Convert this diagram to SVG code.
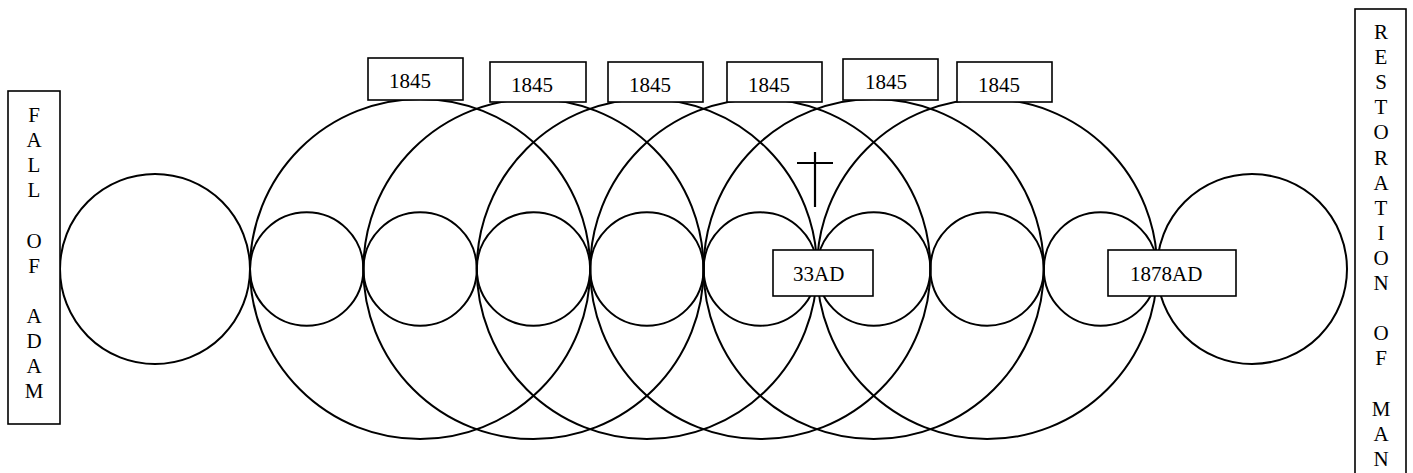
<svg xmlns="http://www.w3.org/2000/svg" width="1413" height="473" viewBox="0 0 1413 473">
<style>
.c{fill:none;stroke:#000;stroke-width:2}
.b{fill:#fff;stroke:#000;stroke-width:1.6}
.t{font-family:"Liberation Serif","Times New Roman",serif;font-size:21px;fill:#000}
.v{font-family:"Liberation Serif","Times New Roman",serif;font-size:21px;fill:#000;text-anchor:middle}
</style>
<rect width="1413" height="473" fill="#fff"/>
<g id="connectors">
<circle class="c" cx="155" cy="269" r="95"/>
<circle class="c" cx="1252" cy="269" r="95"/>
<circle class="c" cx="306.7" cy="269" r="56.7"/>
<circle class="c" cx="420.1" cy="269" r="56.7"/>
<circle class="c" cx="533.5" cy="269" r="56.7"/>
<circle class="c" cx="646.9" cy="269" r="56.7"/>
<circle class="c" cx="760.3" cy="269" r="56.7"/>
<circle class="c" cx="873.7" cy="269" r="56.7"/>
<circle class="c" cx="987.1" cy="269" r="56.7"/>
<circle class="c" cx="1100.5" cy="269" r="56.7"/>
<circle class="c" cx="420.1" cy="269" r="170.1"/>
<circle class="c" cx="533.5" cy="269" r="170.1"/>
<circle class="c" cx="646.9" cy="269" r="170.1"/>
<circle class="c" cx="760.3" cy="269" r="170.1"/>
<circle class="c" cx="873.7" cy="269" r="170.1"/>
<circle class="c" cx="987.1" cy="269" r="170.1"/>
</g>
<g id="cross">
<line x1="815" y1="152" x2="815" y2="207" stroke="#000" stroke-width="2.2"/>
<line x1="797" y1="163" x2="833" y2="163" stroke="#000" stroke-width="2.2"/>
</g>
<g id="fall-of-adam">
<rect class="b" x="8" y="91" width="52" height="333"/>
<text class="v"><tspan x="34" y="122">F</tspan><tspan x="34" y="147">A</tspan><tspan x="34" y="172">L</tspan><tspan x="34" y="197">L</tspan><tspan x="34" y="248">O</tspan><tspan x="34" y="273">F</tspan><tspan x="34" y="323">A</tspan><tspan x="34" y="348">D</tspan><tspan x="34" y="373">A</tspan><tspan x="34" y="398">M</tspan></text>
</g>
<g id="restoration-of-man">
<rect class="b" x="1355" y="9" width="51" height="475"/>
<text class="v"><tspan x="1381" y="39">R</tspan><tspan x="1381" y="64">E</tspan><tspan x="1381" y="89">S</tspan><tspan x="1381" y="114">T</tspan><tspan x="1381" y="139">O</tspan><tspan x="1381" y="165">R</tspan><tspan x="1381" y="190">A</tspan><tspan x="1381" y="215">T</tspan><tspan x="1381" y="240">I</tspan><tspan x="1381" y="265">O</tspan><tspan x="1381" y="290">N</tspan><tspan x="1381" y="340">O</tspan><tspan x="1381" y="365">F</tspan><tspan x="1381" y="416">M</tspan><tspan x="1381" y="441">A</tspan><tspan x="1381" y="466">N</tspan></text>
</g>
<g id="label-1845-1"><rect class="b" x="368" y="58" width="95" height="42"/><text class="t" x="389" y="88">1845</text></g>
<g id="label-1845-2"><rect class="b" x="490" y="62" width="96" height="40"/><text class="t" x="511" y="92">1845</text></g>
<g id="label-1845-3"><rect class="b" x="608" y="62" width="95" height="40"/><text class="t" x="629" y="92">1845</text></g>
<g id="label-1845-4"><rect class="b" x="727" y="62" width="95" height="40"/><text class="t" x="748" y="92">1845</text></g>
<g id="label-1845-5"><rect class="b" x="843" y="59" width="95" height="41"/><text class="t" x="865" y="89">1845</text></g>
<g id="label-1845-6"><rect class="b" x="957" y="62" width="95" height="40"/><text class="t" x="978" y="92">1845</text></g>
<g id="label-33ad"><rect class="b" x="773" y="250" width="100" height="46"/><text class="t" x="793" y="281">33AD</text></g>
<g id="label-1878ad"><rect class="b" x="1108" y="250" width="128" height="46"/><text class="t" x="1130" y="281">1878AD</text></g>
</svg>
